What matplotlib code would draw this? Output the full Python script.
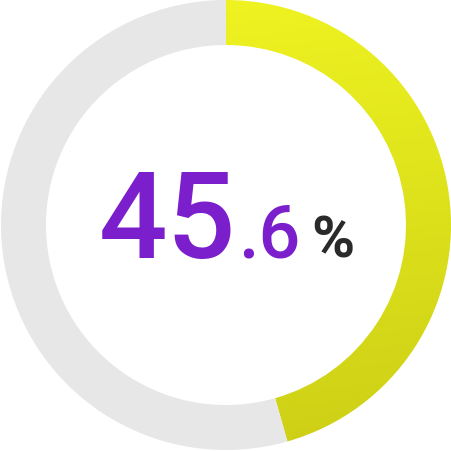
import matplotlib
matplotlib.use("Agg")
import matplotlib.pyplot as plt
import numpy as np
from matplotlib.colors import LinearSegmentedColormap

# data
values = [45.6, 54.4]
main_text = "45"
decimal_text = ".6"
unit_text = "%"

fig = plt.figure(figsize=(4.52, 4.52), dpi=100)
ax = fig.add_axes([0, 0, 1, 1])

R = 225 / 226
wedges, _ = ax.pie(values, radius=R, startangle=90, counterclock=False,
                   colors=['none', '#E7E7E7'],
                   wedgeprops=dict(width=R * 0.2, linewidth=0))

# gradient fill for the value arc
cmap = LinearSegmentedColormap.from_list('lime', ['#F1F522', '#DDE21B', '#CDCE16'])
yy, xx = np.mgrid[1:-1:300j, -1:1:300j]
grad = (1 - yy) * 0.8 + (xx + 1) * 0.1
img = ax.imshow(grad, cmap=cmap, extent=[-1, 1, -1, 1], origin='upper', zorder=0.5)
img.set_clip_path(wedges[0])

ax.set_xlim(-1, 1)
ax.set_ylim(-1, 1)
ax.set_aspect('equal')
ax.axis('off')

def px(x, y):
    return (x - 226) / 226, (226 - y) / 226

fam = ['Roboto', 'DejaVu Sans']
ax.text(*px(99, 258), main_text, fontsize=87, color='#7B1FCC', family=fam,
        fontweight='medium', ha='left', va='baseline')
ax.text(*px(238, 258), decimal_text, fontsize=53, color='#7B1FCC', family=fam,
        fontweight='medium', ha='left', va='baseline')
ax.text(*px(311, 258), unit_text, fontsize=42, color='#2A2A2A', family=fam,
        fontweight='bold', ha='left', va='baseline')

fig.savefig('out.png', dpi=100)
